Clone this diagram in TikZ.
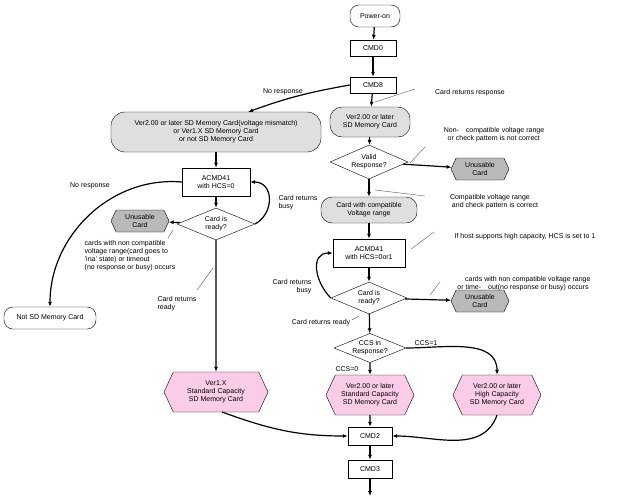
\documentclass[tikz,border=0pt]{standalone}
\usepackage{fontspec}
\setmainfont{Liberation Sans}
\usetikzlibrary{shapes.geometric,shapes.symbols,arrows.meta}
\begin{document}
\begin{tikzpicture}[x=1pt,y=-1pt,font=\fontsize{7}{8}\selectfont,
 box/.style={draw,fill=white,minimum width=#1,minimum height=16,align=center,inner sep=1pt},
 term/.style={draw,rounded corners=9,fill=#1,align=center,inner sep=2pt},
 dia/.style={draw,diamond,aspect=2.4,fill=white,align=center,inner sep=0pt},
 hexa/.style={draw,signal,signal to=east and west,signal pointer angle=130,fill=#1,align=center,inner sep=2pt},
 ar/.style={-{Latex[length=5pt,width=4pt]},line width=1.2pt},
 ld/.style={thin,gray!70!black},
 lab/.style={align=left,inner sep=1pt}]
\useasboundingbox (0,0) rectangle (628,498);
\node[term=white,minimum width=50,minimum height=22] (pw) at (375,16) {Power-on};
\node[box=46] (c0) at (373,48) {CMD0};
\node[box=46] (c8) at (373,85) {CMD8};
\node[term=gray!25,minimum width=210,minimum height=40,rounded corners=14] (lv) at (216,132) {Ver2.00 or later SD Memory Card(voltage mismatch)\\or Ver1.X SD Memory Card\\or not SD Memory Card};
\coordinate (lvt) at (248,112);
\node[box=68,minimum height=28] (la) at (216,182) {ACMD41\\with HCS=0};
\node[dia,minimum width=78,minimum height=32] (lr) at (216,224) {Card is\\ready?};
\node[hexa=gray!55,minimum width=58,minimum height=22] (lu) at (140,221) {Unusable\\Card};
\node[term=white,minimum width=92,minimum height=22] (ns) at (50,318) {Not SD Memory Card};
\node[hexa=magenta!20,minimum width=104,minimum height=40] (v1) at (216,392) {Ver1.X\\Standard Capacity\\SD Memory Card};
\coordinate (v1b) at (222,412);
\node[term=gray!25,minimum width=80,minimum height=30,rounded corners=12] (rv) at (370,122) {Ver2.00 or later\\SD Memory Card};
\node[dia,minimum width=78,minimum height=34] (vr) at (369,162) {Valid\\Response?};
\node[hexa=gray!55,minimum width=58,minimum height=22] (ru1) at (480,169) {Unusable\\Card};
\node[term=gray!25,minimum width=96,minimum height=26,rounded corners=11] (cc) at (369,210) {Card with compatible\\Voltage range};
\node[box=72,minimum height=28] (ra) at (369,253) {ACMD41\\with HCS=0or1};
\node[dia,minimum width=76,minimum height=32] (rr) at (369,298) {Card is\\ready?};
\node[hexa=gray!55,minimum width=58,minimum height=22] (ru2) at (480,301) {Unusable\\Card};
\node[dia,minimum width=72,minimum height=28] (cs) at (370,348) {CCS in\\Response?};
\node[hexa=magenta!20,minimum width=88,minimum height=40] (v2s) at (370,395) {Ver2.00 or later\\Standard Capacity\\SD Memory Card};
\node[hexa=magenta!20,minimum width=88,minimum height=40] (v2h) at (497,395) {Ver2.00 or later\\High Capacity\\SD Memory Card};
\node[box=44,minimum height=18] (c2) at (370,436) {CMD2};
\node[box=44,minimum height=18] (c3) at (370,469) {CMD3};
\coordinate (end) at (370,496);
% main arrows
\draw[ar] (pw) -- (c0);
\draw[ar] (c0) -- (c8);
\draw[ar] (c8.west) to[out=190,in=20] (lvt);
\draw[ar] (c8) -- (rv);
\draw[ar] (rv) -- (vr);
\draw[ar] (vr) -- (ru1);
\draw[ar] (vr) -- (cc);
\draw[ar] (cc) -- (ra);
\draw[ar] (ra) -- (rr);
\draw[ar] (rr) -- (ru2);
\draw[ar] (rr.west) to[out=135,in=180,looseness=1.3] (ra.west);
\draw[ar] (rr) -- (cs);
\draw[ar] (cs) -- (v2s);
\draw[ar] (cs.east) to[out=0,in=90] (v2h.north);
\draw[ar] (v2s) -- (c2);
\draw[ar] (v2h.south) to[out=-110,in=0] (c2.east);
\draw[ar] (v1b) to[out=-20,in=180] (c2.west);
\draw[ar] (c2) -- (c3);
\draw[ar] (c3) -- (end);
\draw[ar] (lv) -- (la);
\draw[ar] (la) -- (lr);
\draw[ar] (lr) -- (lu);
\draw[ar] (lr.east) to[out=30,in=0,looseness=1.4] (la.east);
\draw[ar] (la.west) to[out=175,in=90] (ns.north);
\draw[ar] (lr) -- (v1);
% labels
\node[lab] (t1) at (283,92) {No response};
\node[lab] (t2) at (470,93) {Card returns response};
\draw[ld] (375,102) -- (415,89);
\node[lab] (t3) at (494,135) {Non-\quad compatible voltage range\\\ \ or check pattern is not correct};
\draw[ld] (410,163) -- (425,147);
\node[lab] (t4) at (494,202) {Compatible voltage range\\\ and check pattern is correct};
\draw[ld] (375,190) -- (425,196);
\node[lab] (t5) at (525,237) {If host supports high capacity, HCS is set to 1};
\draw[ld] (411,249) -- (434,232);
\node[lab] (t6) at (524,284) {\ \ \ \ cards with non compatible voltage range\\or time-\quad out(no response or busy) occurs};
\draw[ld] (430,295) -- (440,282);
\node[lab] (t7) at (292,287) {Card returns\\\hfill busy};
\node[lab] (t8) at (321,323) {Card returns ready};
\draw[ld] (352,320) -- (359,316);
\node[lab] (t9) at (426,343) {CCS=1};
\node[lab] (t10) at (347,369) {CCS=0};
\node[lab] (t11) at (90,186) {No response};
\node[lab] (t12) at (298,203) {Card returns\\busy};
\node[lab] (t13) at (130,256) {cards with non compatible\\ voltage range(card goes to\\'ina' state) or timeout\\ (no response or busy) occurs};
\draw[ld] (173,230) -- (168,238);
\node[lab] (t14) at (177,304) {Card returns\\ready};
\draw[ld] (197,290) -- (213,268);
\end{tikzpicture}
\end{document}
